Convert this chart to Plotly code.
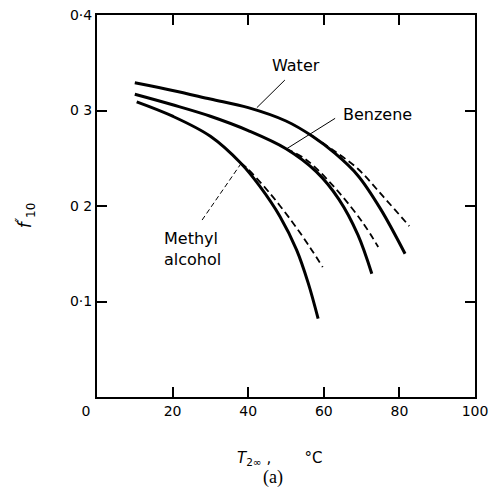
import plotly.graph_objects as go

# ---- data ----
water_x = [10, 20, 30, 40, 50, 57, 63, 69, 75, 81.5]
water_y = [0.329, 0.321, 0.312, 0.303, 0.289, 0.273, 0.255, 0.232, 0.197, 0.150]
water_dash_x = [57, 63, 69, 75.7, 82.6]
water_dash_y = [0.273, 0.257, 0.239, 0.210, 0.179]

benz_x = [10, 20, 30, 40, 50, 58, 64, 69, 72.7]
benz_y = [0.317, 0.306, 0.294, 0.279, 0.260, 0.236, 0.207, 0.170, 0.129]
benz_dash_x = [50, 55.5, 63.4, 70.4, 74.4]
benz_dash_y = [0.260, 0.248, 0.217, 0.182, 0.157]

meth_x = [10.5, 20, 30, 38, 43, 48.4, 52.8, 55.9, 58.5]
meth_y = [0.309, 0.294, 0.273, 0.245, 0.221, 0.189, 0.154, 0.119, 0.082]
meth_dash_x = [38, 39.6, 45.8, 51.9, 56.3, 59.7]
meth_dash_y = [0.245, 0.240, 0.213, 0.182, 0.157, 0.136]

x_ticks = [0, 20, 40, 60, 80, 100]
x_tick_text = ["0\u00a0\u00a0\u00a0\u00a0\u00a0", "20", "40", "60", "80", "100"]
y_ticks = [0.1, 0.2, 0.3, 0.4]
y_tick_text = ["0·1", "0 2", "0 3", "0·4"]

labels = [
    dict(text="Water", x=52.6, y=0.3476, xanchor="center", align="center"),
    dict(text="Benzene", x=74.3, y=0.2953, xanchor="center", align="center"),
    dict(text="Methyl<br>alcohol", x=17.2, y=0.155, xanchor="left", align="left"),
]
leaders = [
    dict(x0=49.7, y0=0.3319, x1=42.3, y1=0.3030, dash="solid"),
    dict(x0=63.0, y0=0.2918, x1=50.2, y1=0.2600, dash="solid"),
    dict(x0=27.8, y0=0.1853, x1=38.2, y1=0.2450, dash="5px,3px"),
]

FONT = "DejaVu Sans"

fig = go.Figure()
solid = dict(color="black", width=3, shape="spline", smoothing=1.0)
dashed = dict(color="black", width=1.8, dash="7px,4px", shape="spline", smoothing=1.0)

for xs, ys in [(water_x, water_y), (benz_x, benz_y), (meth_x, meth_y)]:
    fig.add_trace(go.Scatter(x=xs, y=ys, mode="lines", line=solid, showlegend=False, hoverinfo="skip"))
for xs, ys in [(water_dash_x, water_dash_y), (benz_dash_x, benz_dash_y), (meth_dash_x, meth_dash_y)]:
    fig.add_trace(go.Scatter(x=xs, y=ys, mode="lines", line=dashed, showlegend=False, hoverinfo="skip"))

for ld in leaders:
    fig.add_shape(type="line", xref="x", yref="y", x0=ld["x0"], y0=ld["y0"], x1=ld["x1"], y1=ld["y1"],
                  line=dict(color="black", width=1, dash=ld["dash"]))

for lb in labels:
    fig.add_annotation(text=lb["text"], x=lb["x"], y=lb["y"], xref="x", yref="y",
                       xanchor=lb["xanchor"], yanchor="middle", align=lb["align"], showarrow=False,
                       font=dict(family=FONT, size=16, color="black"))

# axis titles
fig.add_annotation(text="<i>T</i><sub>2∞</sub> ,\u00a0\u00a0\u00a0\u00a0\u00a0\u00a0\u00a0°C",
                   xref="paper", yref="paper", x=0.484, y=-0.16, xanchor="center", yanchor="middle",
                   showarrow=False, font=dict(family=FONT, size=15, color="black"))
fig.add_annotation(text="(a)", xref="paper", yref="paper", x=0.465, y=-0.21, xanchor="center",
                   yanchor="middle", showarrow=False,
                   font=dict(family="Liberation Serif", size=18, color="black"))
fig.add_annotation(text="<i>f</i><sup>\u2033</sup><sub>10</sub>", xref="paper", yref="paper",
                   x=-0.19, y=0.476, xanchor="center", yanchor="middle", textangle=-90,
                   showarrow=False, font=dict(family=FONT, size=17, color="black"))

axis_common = dict(showline=True, linecolor="black", linewidth=2, mirror="ticks", ticks="inside",
                   ticklen=10, tickwidth=1.5, tickcolor="black", showgrid=False, zeroline=False,
                   automargin=False, tickfont=dict(family=FONT, size=14, color="black"))

fig.update_xaxes(range=[0, 100], tickmode="array", tickvals=x_ticks, ticktext=x_tick_text, **axis_common)
fig.update_yaxes(range=[0, 0.4], tickmode="array", tickvals=y_ticks, ticktext=y_tick_text, **axis_common)

fig.update_layout(width=490, height=487, margin=dict(l=97, r=15, t=15, b=90, autoexpand=False),
                  plot_bgcolor="white", paper_bgcolor="white", showlegend=False)

fig.write_html("out.html")
